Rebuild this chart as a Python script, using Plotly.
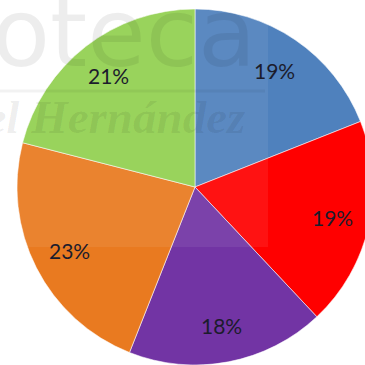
import numpy as np
import plotly.graph_objects as go

# ---- data ----
labels = ["Serie 1", "Serie 2", "Serie 3", "Serie 4", "Serie 5"]
values = [19, 19, 18, 23, 21]
pct_text = ["19%", "19%", "18%", "23%", "21%"]
colors = ["#4F81BD", "#FF0000", "#7234A4", "#E97A20", "#92D050"]

# ---- geometry (pixels) ----
W, H = 380, 365
cx, cy, R = 195, 187, 178

fig = go.Figure(go.Pie(
    values=values, labels=labels, sort=False, direction="clockwise", rotation=0,
    marker=dict(colors=colors, line=dict(color="rgba(255,255,255,0.55)", width=1)),
    textinfo="none", hoverinfo="skip", showlegend=False,
    domain=dict(x=[(cx - R) / W, (cx + R) / W], y=[1 - (cy + R) / H, 1 - (cy - R) / H]),
))

# data labels placed at the angular middle of each slice
vals = np.array(values, dtype=float)
frac = vals / vals.sum()
mid = np.cumsum(frac) - frac / 2
ang = mid * 2 * np.pi
rf = 0.79
annotations = []
for a, t in zip(ang, pct_text):
    px = cx + rf * R * np.sin(a)
    py = cy - rf * R * np.cos(a)
    annotations.append(dict(x=px / W, y=1 - py / H, xref="paper", yref="paper",
                            xanchor="center", yanchor="middle",
                            text=t, showarrow=False,
                            font=dict(family="Lato", size=21, color="#1c1c2c")))

# watermark
annotations.append(dict(x=-10 / W, y=1 - 33 / H, xref="paper", yref="paper", xanchor="left",
                        yanchor="middle", text="oteca", showarrow=False,
                        font=dict(family="DejaVu Sans", size=95, color="rgba(0,0,0,0.07)")))
annotations.append(dict(x=248 / W, y=1 - 117 / H, xref="paper", yref="paper", xanchor="right",
                        yanchor="middle", text="<b><i>Miguel Hernández</i></b>", showarrow=False,
                        font=dict(family="Liberation Serif", size=47, color="rgba(0,0,0,0.07)")))

fig.update_layout(
    width=W, height=H, margin=dict(l=0, r=0, t=0, b=0),
    paper_bgcolor="white", plot_bgcolor="white",
    annotations=annotations,
    shapes=[dict(type="rect", xref="paper", yref="paper", x0=0, x1=268 / W,
                 y0=1 - 247 / H, y1=1, fillcolor="rgba(255,255,255,0.07)", line=dict(width=0),
                 layer="above"),
            dict(type="line", xref="paper", yref="paper", x0=0, x1=265 / W,
                 y0=1 - 91 / H, y1=1 - 91 / H, line=dict(color="rgba(0,0,0,0.05)", width=3),
                 layer="above")],
)

fig.write_html("out.html",
               post_script="document.documentElement.style.overflow='hidden';document.body.style.overflow='hidden';document.body.style.margin='0';")
